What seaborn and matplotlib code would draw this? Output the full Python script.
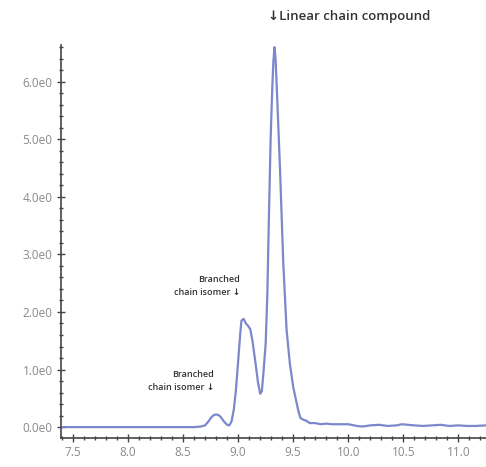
import numpy as np
import pandas as pd
import matplotlib.pyplot as plt
import seaborn as sns
from matplotlib.ticker import MultipleLocator, FuncFormatter

# Retention time (min) and signal intensity
rt = [7.40, 7.80, 8.20, 8.60, 8.66, 8.70, 8.73, 8.76, 8.78, 8.80, 8.82, 8.84,
      8.87, 8.90, 8.92, 8.94, 8.96, 8.98, 9.00, 9.02, 9.03, 9.05, 9.07, 9.09,
      9.11, 9.13, 9.155, 9.18, 9.20, 9.215, 9.23, 9.25, 9.265, 9.28, 9.295,
      9.31, 9.32, 9.33, 9.34, 9.355, 9.38, 9.41, 9.44, 9.47, 9.50, 9.52, 9.545,
      9.565, 9.59, 9.62, 9.65, 9.70, 9.75, 9.80, 9.85, 9.92, 10.00, 10.08,
      10.13, 10.20, 10.28, 10.36, 10.44, 10.49, 10.54, 10.60, 10.68, 10.76,
      10.84, 10.92, 11.00, 11.08, 11.16, 11.25]
signal = [0.00, 0.00, 0.00, 0.00, 0.01, 0.03, 0.10, 0.18, 0.21, 0.22, 0.21, 0.18,
          0.10, 0.04, 0.03, 0.10, 0.30, 0.65, 1.15, 1.65, 1.85, 1.88, 1.80, 1.76,
          1.70, 1.50, 1.15, 0.78, 0.58, 0.62, 0.95, 1.45, 2.30, 3.70, 5.00,
          5.90, 6.35, 6.60, 6.40, 5.70, 4.50, 2.85, 1.69, 1.10, 0.70, 0.52, 0.30,
          0.16, 0.13, 0.11, 0.07, 0.07, 0.05, 0.06, 0.05, 0.05, 0.05, 0.02,
          0.01, 0.03, 0.04, 0.02, 0.03, 0.05, 0.04, 0.03, 0.02, 0.03,
          0.04, 0.02, 0.03, 0.02, 0.02, 0.03]

df = pd.DataFrame({'rt': rt, 'signal': signal})

sns.set_style("ticks")
plt.rcParams['font.family'] = ['Open Sans', 'DejaVu Sans']

fig = plt.figure(figsize=(4.86, 4.67), dpi=100)
ax = fig.add_axes([0.1255, 0.062, 0.874, 0.842])

sns.lineplot(data=df, x='rt', y='signal', ax=ax, color='#7b88cc', linewidth=1.6, sort=False)

ax.set_xlim(7.39, 11.25)
ax.set_ylim(-0.19, 6.64)
ax.set_xlabel('')
ax.set_ylabel('')

ax.xaxis.set_major_locator(MultipleLocator(0.5))
ax.xaxis.set_minor_locator(MultipleLocator(0.1))
ax.yaxis.set_major_locator(MultipleLocator(1.0))
ax.yaxis.set_minor_locator(MultipleLocator(0.2))
ax.yaxis.set_major_formatter(FuncFormatter(lambda v, _: f'{v:.1f}e0'))

ax.tick_params(which='major', direction='inout', length=6, width=1, color='#444444',
               labelsize=8.5, labelcolor='#8a8a8a', pad=3)
ax.tick_params(which='minor', direction='inout', length=3.5, width=1, color='#444444')
for s in ['top', 'right']:
    ax.spines[s].set_visible(False)
for s in ['left', 'bottom']:
    ax.spines[s].set_color('#444444')
    ax.spines[s].set_linewidth(1.2)

# Peak annotations
ax.text(9.27, 7.13, '↓Linear chain compound', ha='left', va='center',
        fontsize=9.5, fontweight='semibold', color='#333333', clip_on=False)
ax.text(9.02, 2.45, 'Branched\nchain isomer ↓', ha='right', va='center',
        multialignment='right', fontsize=6.5, fontweight='semibold', color='#333333',
        linespacing=1.6)
ax.text(8.78, 0.80, 'Branched\nchain isomer ↓', ha='right', va='center',
        multialignment='right', fontsize=6.5, fontweight='semibold', color='#333333',
        linespacing=1.6)

plt.savefig('out.png', dpi=100)
